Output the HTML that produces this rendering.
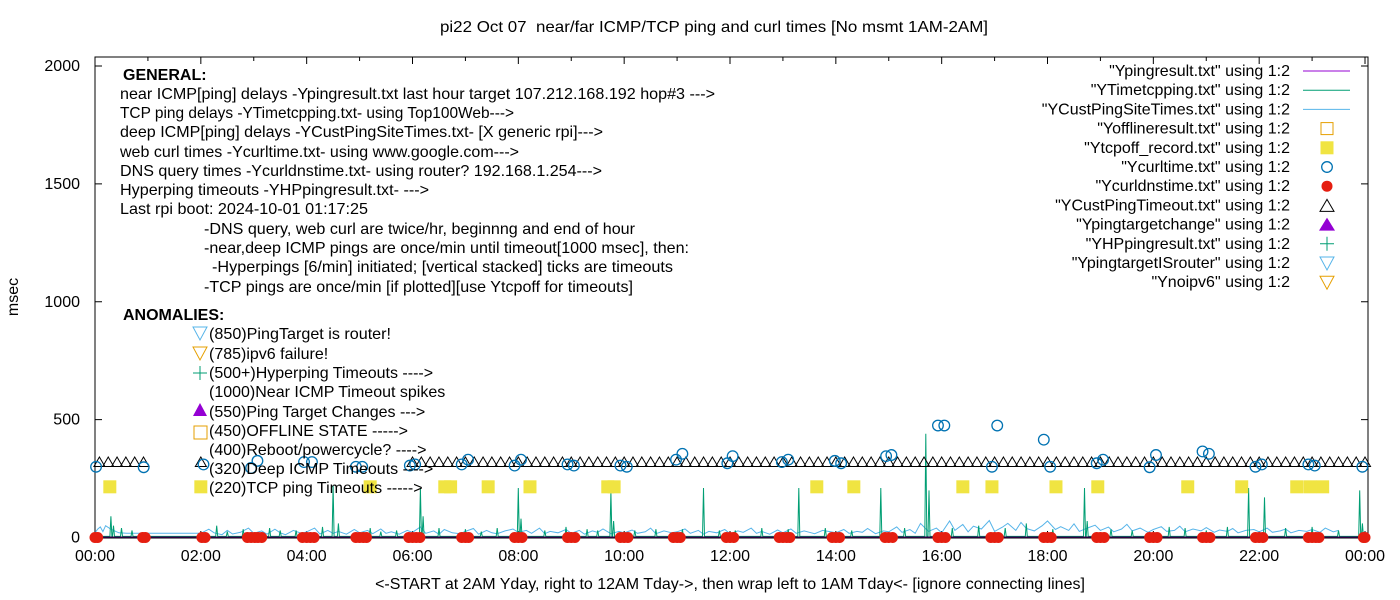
<!DOCTYPE html>
<html><head><meta charset="utf-8"><style>
html,body{margin:0;padding:0;background:#fff}
svg{display:block;font-family:"Liberation Sans",Arial,sans-serif}
</style></head><body>
<svg id="chart" width="1400" height="600" viewBox="0 0 1400 600">
<text x="714" y="32" text-anchor="middle" font-size="16" textLength="548" lengthAdjust="spacingAndGlyphs" xml:space="preserve" style="white-space:pre">pi22 Oct 07  near/far ICMP/TCP ping and curl times [No msmt 1AM-2AM]</text>
<text transform="translate(18,297) rotate(-90)" text-anchor="middle" font-size="16">msec</text>
<text x="730" y="589" text-anchor="middle" font-size="16">&lt;-START at 2AM Yday, right to 12AM Tday-&gt;, then wrap left to 1AM Tday&lt;- [ignore connecting lines]</text>
<g id="axes"></g>
<g id="series"></g>
<g id="annot" font-size="16">
<text x="123" y="80" font-weight="bold">GENERAL:</text>
<text x="120" y="99" textLength="595" lengthAdjust="spacingAndGlyphs">near ICMP[ping] delays -Ypingresult.txt last hour target 107.212.168.192 hop#3 ---&gt;</text>
<text x="120" y="118" textLength="394" lengthAdjust="spacingAndGlyphs">TCP ping delays -YTimetcpping.txt- using Top100Web---&gt;</text>
<text x="120" y="137" textLength="483" lengthAdjust="spacingAndGlyphs">deep ICMP[ping] delays -YCustPingSiteTimes.txt- [X generic rpi]---&gt;</text>
<text x="120" y="157" textLength="399" lengthAdjust="spacingAndGlyphs">web curl times -Ycurltime.txt- using www.google.com---&gt;</text>
<text x="120" y="176" textLength="482" lengthAdjust="spacingAndGlyphs">DNS query times -Ycurldnstime.txt- using router? 192.168.1.254---&gt;</text>
<text x="120" y="195" textLength="309" lengthAdjust="spacingAndGlyphs">Hyperping timeouts -YHPpingresult.txt- ---&gt;</text>
<text x="120" y="214" textLength="248" lengthAdjust="spacingAndGlyphs">Last rpi boot: 2024-10-01 01:17:25</text>
<text x="204" y="234" textLength="431" lengthAdjust="spacingAndGlyphs">-DNS query, web curl are twice/hr, beginnng and end of hour</text>
<text x="204" y="253" textLength="485" lengthAdjust="spacingAndGlyphs">-near,deep ICMP pings are once/min until timeout[1000 msec], then:</text>
<text x="212" y="272" textLength="461" lengthAdjust="spacingAndGlyphs">-Hyperpings [6/min] initiated; [vertical stacked] ticks are timeouts</text>
<text x="204" y="292" textLength="429" lengthAdjust="spacingAndGlyphs">-TCP pings are once/min [if plotted][use Ytcpoff for timeouts]</text>
<text x="123" y="320" font-weight="bold">ANOMALIES:</text>
<text x="209" y="339" textLength="182" lengthAdjust="spacingAndGlyphs">(850)PingTarget is router!</text>
<text x="209" y="359">(785)ipv6 failure!</text>
<text x="209" y="378">(500+)Hyperping Timeouts ----&gt;</text>
<text x="209" y="397">(1000)Near ICMP Timeout spikes</text>
<text x="209" y="417">(550)Ping Target Changes ---&gt;</text>
<text x="209" y="436">(450)OFFLINE STATE -----&gt;</text>
<text x="209" y="455">(400)Reboot/powercycle? ----&gt;</text>
<text x="209" y="474">(320)Deep ICMP Timeouts ----&gt;</text>
<text x="209" y="493">(220)TCP ping Timeouts -----&gt;</text>
<polygon points="193,327 207,327 200,340" fill="none" stroke="#56b4e9"/>
<polygon points="193,347 207,347 200,360" fill="none" stroke="#e69f00"/>
<path d="M193,373 H207 M200,366 V380" stroke="#009e73"/>
<polygon points="193,416 207,416 200,403" fill="#9400d3"/>
<rect x="194" y="426" width="13" height="13" fill="none" stroke="#e69f00"/>
</g>
<g id="legend" font-size="16" text-anchor="end"></g>
</svg>
<script>
const yTicks=[0,500,1000,1500,2000];
const xTickHours=[0,2,4,6,8,10,12,14,16,18,20,22,24];
const xTickLabels=["00:00","02:00","04:00","06:00","08:00","10:00","12:00","14:00","16:00","18:00","20:00","22:00","00:00"];
const dnsTimes=[0.0,0.05,0.9,0.95,2.02,2.08,2.88,2.95,3.02,3.08,3.15,3.92,4.0,4.07,4.14,4.93,5.0,5.07,5.13,5.93,6.0,6.07,6.14,6.93,7.0,7.06,7.93,8.0,8.07,8.93,9.0,9.07,9.93,10.0,10.07,10.93,11.0,11.06,11.93,12.0,12.07,12.93,13.0,13.07,13.13,13.93,14.0,14.07,14.93,15.0,15.07,15.93,16.0,16.07,16.93,17.0,17.07,17.93,18.0,18.07,18.93,19.0,19.07,19.93,20.0,20.07,20.93,21.0,21.07,21.93,22.0,22.07,22.93,23.0,23.07,23.13,23.97,24.0];
const dnsValues=[0,0,0,0,0,0,0,0,0,0,0,0,0,0,0,0,0,0,0,0,0,0,0,0,0,0,0,0,0,0,0,0,0,0,0,0,0,0,0,0,0,0,0,0,0,0,0,0,0,0,0,0,0,0,0,0,0,0,0,0,0,0,0,0,0,0,0,0,0,0,0,0,0,0,0,0,0,0];
const curlTimes=[0.02,0.92,2.05,2.95,3.07,3.95,4.1,4.93,5.05,5.95,6.05,6.93,7.05,7.93,8.05,8.93,9.05,9.93,10.05,10.98,11.1,11.95,12.05,12.98,13.1,13.98,14.1,14.95,15.05,15.93,16.05,16.95,17.05,17.93,18.05,18.93,19.05,19.93,20.05,20.93,21.05,21.93,22.05,22.93,23.05,23.95];
const curlValues=[300,298,310,295,325,320,320,300,300,305,310,310,330,305,330,310,305,305,300,330,355,315,345,320,330,325,315,345,350,475,475,300,475,415,300,315,330,298,350,365,355,300,310,310,305,300];
const tcpoffTimes=[0.28,2.0,5.2,6.61,6.72,7.43,8.22,9.69,9.81,13.64,14.34,16.4,16.95,18.16,18.95,20.65,21.67,22.71,22.96,23.2];
const tcpoffValues=[215,215,215,215,215,215,215,215,215,215,215,215,215,215,215,215,215,215,215,215];
const timeoutMinutes=[5,15,25,35,45,55,120,360,370,380,390,400,410,420,430,440,450,460,470,480,490,500,510,520,530,540,550,560,570,580,590,600,610,620,630,640,650,660,670,680,690,700,710,720,730,740,750,760,770,780,790,800,810,820,830,840,850,860,870,880,890,900,910,920,930,940,950,960,970,980,990,1000,1010,1020,1030,1040,1050,1060,1070,1080,1090,1100,1110,1120,1130,1140,1150,1160,1170,1180,1190,1200,1210,1220,1230,1240,1250,1260,1270,1280,1290,1300,1310,1320,1330,1340,1350,1360,1370,1380,1390,1400,1410,1420,1430,1440];
const timeoutValue=320;
const tcpTimes=[0.3,0.35,0.5,0.7,2.3,2.5,2.8,3.3,3.5,3.8,4.3,4.5,4.6,5.2,5.4,5.7,6.15,6.2,6.5,7.0,7.3,7.6,8.0,8.05,8.5,8.9,9.3,9.5,9.75,9.8,10.2,10.6,11.1,11.5,11.8,12.1,12.6,13.1,13.3,13.8,14.3,14.85,15.3,15.7,15.76,16.2,16.7,17.2,17.6,18.1,18.7,18.75,19.2,19.6,20.3,20.6,21.0,21.4,21.8,22.1,22.5,23.0,23.5,23.9,23.95];
const tcpValues=[90,50,40,30,50,25,35,40,30,30,45,220,60,40,25,30,210,90,40,35,25,40,210,80,30,45,35,30,195,70,30,35,35,210,30,30,40,35,210,40,30,210,40,440,200,40,50,40,60,35,210,70,35,30,45,40,30,45,210,170,40,45,30,200,60];
const tcpBaseline=5;
const custTimes=[0,0.05,0.1,0.15,0.2,0.3,0.45,0.6,2.0,2.15,2.25,2.4,2.5,2.6,2.75,2.9,3.0,3.15,3.25,3.4,3.5,3.6,3.75,3.9,4.0,4.15,4.25,4.4,4.5,4.6,4.75,4.9,5.0,5.15,5.25,5.4,5.5,5.6,5.75,5.9,6.0,6.15,6.25,6.4,6.5,6.6,6.75,6.9,7.0,7.15,7.25,7.4,7.5,7.6,7.75,7.9,8.0,8.15,8.25,8.4,8.5,8.6,8.75,8.9,9.0,9.15,9.25,9.4,9.5,9.6,9.75,9.9,10.0,10.15,10.25,10.4,10.5,10.6,10.75,10.9,11.0,11.15,11.25,11.4,11.5,11.6,11.75,11.9,12.0,12.15,12.25,12.4,12.5,12.6,12.75,12.9,13.0,13.15,13.25,13.4,13.5,13.6,13.75,13.9,14.0,14.15,14.25,14.4,14.5,14.6,14.75,14.9,15.0,15.15,15.25,15.4,15.5,15.6,15.75,15.9,16.0,16.15,16.25,16.4,16.5,16.6,16.75,16.9,17.0,17.15,17.25,17.4,17.5,17.6,17.75,17.9,18.0,18.15,18.25,18.4,18.5,18.6,18.75,18.9,19.0,19.15,19.25,19.4,19.5,19.6,19.75,19.9,20.0,20.15,20.25,20.4,20.5,20.6,20.75,20.9,21.0,21.15,21.25,21.4,21.5,21.6,21.75,21.9,22.0,22.15,22.25,22.4,22.5,22.6,22.75,22.9,23.0,23.15,23.25,23.4,23.5,23.6,23.75,23.9,24.0];
const custValues=[20,35,45,25,50,35,20,18,18,35,20,12,30,15,22,40,18,28,14,35,20,12,30,18,24,40,15,30,18,26,14,34,20,30,16,36,18,24,14,30,22,45,18,28,14,34,20,16,26,38,14,30,20,16,28,36,22,30,18,40,16,26,20,34,18,30,14,28,22,36,16,26,20,32,18,24,40,16,28,20,24,36,18,30,14,26,20,34,16,28,22,40,18,26,14,32,20,36,18,28,22,16,30,24,20,34,18,26,22,38,16,28,24,45,22,34,18,60,26,40,20,70,30,55,24,48,36,72,26,44,60,30,64,38,28,50,70,34,46,30,58,26,40,52,30,44,24,36,56,28,40,22,34,46,26,30,48,24,36,28,42,22,32,26,38,20,30,34,24,40,22,28,36,20,30,26,34,22,40,24,30];
const pingTimes=[0,0.6,2.0,24.0];
const pingValues=[1,1,1,1];

const NS='http://www.w3.org/2000/svg';
const L=95,R=1368,T=57,B=538;
const X=h=>95+h*52.917;
const Y=v=>537.5-v*0.23575;
function mk(tag,attrs,parent){const e=document.createElementNS(NS,tag);for(const k in attrs)e.setAttribute(k,attrs[k]);parent.appendChild(e);return e;}
const axes=document.getElementById('axes');
const series=document.getElementById('series');
const legend=document.getElementById('legend');

let fr=mk('rect',{x:L,y:T,width:R-L,height:B-T,fill:'none',stroke:'#000','stroke-width':1},axes);


yTicks.forEach(v=>{
  const y=Y(v);
  let t=mk('path',{d:`M${L},${y}h7M${R},${y}h-7`,stroke:'#000'},axes);
  
  
  let tx=mk('text',{x:80,y:y+5,'text-anchor':'end','font-size':16},axes);
  tx.textContent=v;
  
  
});
for(let h=0;h<=24;h++){
  const x=X(h),len=(h%2===0)?7:4;
  let t=mk('path',{d:`M${x},${B}v-${len}M${x},${T}v${len}`,stroke:'#000'},axes);
  
  
}
xTickHours.forEach((h,i)=>{
  let tx=mk('text',{x:X(h),y:561,'text-anchor':'middle','font-size':16},axes);
  tx.textContent=xTickLabels[i];
  
  
});

let cd='';custTimes.forEach((t,i)=>{cd+=(i?'L':'M')+X(t).toFixed(1)+','+Y(custValues[i]).toFixed(1);});
let cp=mk('path',{d:cd,fill:'none',stroke:'#56b4e9','stroke-width':1},series);


let gd='M'+X(0)+','+Y(tcpBaseline);
tcpTimes.forEach((t,i)=>{const x=X(t);gd+=`L${(x-1).toFixed(1)},${Y(tcpBaseline)}L${x.toFixed(1)},${Y(tcpValues[i]).toFixed(1)}L${(x+1).toFixed(1)},${Y(tcpBaseline)}`;});
gd+='L'+X(24)+','+Y(tcpBaseline);
let gp=mk('path',{d:gd,fill:'none',stroke:'#009e73','stroke-width':1},series);


let pd='';pingTimes.forEach((t,i)=>{pd+=(i?'L':'M')+X(t)+','+Y(pingValues[i]);});
let pp=mk('path',{d:pd,fill:'none',stroke:'#2a0040','stroke-width':1.5},series);


tcpoffTimes.forEach((t,i)=>{
  let r=mk('rect',{x:X(t)-6.5,y:Y(tcpoffValues[i])-6.5,width:13,height:13,fill:'#f0e442'},series);
  
  
});
timeoutMinutes.forEach(m=>{
  const x=X(m/60),y=Y(timeoutValue);
  let p=mk('polygon',{points:`${x-5.5},${y+4.5} ${x+5.5},${y+4.5} ${x},${y-5}`,fill:'none',stroke:'#000','stroke-width':1},series);
  
  
});
curlTimes.forEach((t,i)=>{
  let c=mk('circle',{cx:X(t),cy:Y(curlValues[i]),r:5.3,fill:'none',stroke:'#0072b2','stroke-width':1.3},series);
  
  
});
dnsTimes.forEach((t,i)=>{
  let c=mk('circle',{cx:X(t),cy:Y(dnsValues[i]),r:5.5,fill:'#e51e10'},series);
  
  
});

const legNames=['"Ypingresult.txt" using 1:2','"YTimetcpping.txt" using 1:2','"YCustPingSiteTimes.txt" using 1:2','"Yofflineresult.txt" using 1:2','"Ytcpoff_record.txt" using 1:2','"Ycurltime.txt" using 1:2','"Ycurldnstime.txt" using 1:2','"YCustPingTimeout.txt" using 1:2','"Ypingtargetchange" using 1:2','"YHPpingresult.txt" using 1:2','"YpingtargetISrouter" using 1:2','"Ynoipv6" using 1:2'];
legNames.forEach((n,i)=>{
  const y=71+i*19.2;
  let tx=mk('text',{x:1290,y:y+5},legend);
  tx.textContent=n;
  
  
  const cx=1327;let s;
  if(i<3){s=mk('path',{d:`M1303,${y}H1350`,stroke:['#9400d3','#009e73','#56b4e9'][i]},legend);}
  else if(i===3){s=mk('rect',{x:cx-6,y:y-6,width:12,height:12,fill:'none',stroke:'#e69f00'},legend);}
  else if(i===4){s=mk('rect',{x:cx-6.5,y:y-6.5,width:13,height:13,fill:'#f0e442'},legend);}
  else if(i===5){s=mk('circle',{cx:cx,cy:y,r:5.3,fill:'none',stroke:'#0072b2','stroke-width':1.3},legend);}
  else if(i===6){s=mk('circle',{cx:cx,cy:y,r:5.5,fill:'#e51e10'},legend);}
  else if(i===7){s=mk('polygon',{points:`${cx-7},${y+6} ${cx+7},${y+6} ${cx},${y-6}`,fill:'none',stroke:'#000'},legend);}
  else if(i===8){s=mk('polygon',{points:`${cx-8},${y+6} ${cx+8},${y+6} ${cx},${y-7}`,fill:'#9400d3'},legend);}
  else if(i===9){s=mk('path',{d:`M${cx-7},${y}h14M${cx},${y-7}v14`,stroke:'#009e73'},legend);}
  else if(i===10){s=mk('polygon',{points:`${cx-7},${y-6} ${cx+7},${y-6} ${cx},${y+7}`,fill:'none',stroke:'#56b4e9'},legend);}
  else {s=mk('polygon',{points:`${cx-7},${y-6} ${cx+7},${y-6} ${cx},${y+7}`,fill:'none',stroke:'#e69f00'},legend);}
  
  
});
</script>
</body></html>
